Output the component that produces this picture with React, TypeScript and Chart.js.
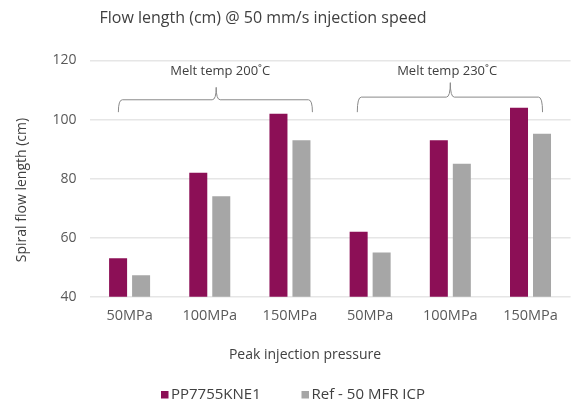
import React, { useEffect, useRef } from "react";
import { Chart, registerables } from "chart.js";

Chart.register(...registerables);

const categories = ["50MPa", "100MPa", "150MPa", "50MPa", "100MPa", "150MPa"];
const seriesNames = ["PP7755KNE1", "Ref - 50 MFR ICP"];
const ppValues = [53, 82, 102, 62, 93, 104];
const refValues = [47.3, 74, 93, 55, 85, 95.2];
const yTicks = [40, 60, 80, 100, 120];
const groupLabels = ["Melt temp 200˚C", "Melt temp 230˚C"];
// bracket spans in category-index units, heights in value units
const groupLeft = [-0.14, 2.84];
const groupRight = [2.28, 5.15];
const groupPeak = [1.08, 4.0];
const groupText = [1.13, 3.96];
const groupLineY = [106.7, 107.6];
const groupTopY = [110.9, 112.5];
const groupEndY = [102.5, 102.5];
const groupTextY = 116.2;

const titleText = "Flow length (cm) @ 50 mm/s injection speed";
const xTitle = "Peak injection pressure";
const yTitle = "Spiral flow length (cm)";

const MAGENTA = "#8C0F56";
const GREY = "#A6A6A6";
const FONT = "'Open Sans', 'Noto Sans', sans-serif";

const decorPlugin = {
  id: "decor",
  afterDraw(chart: any) {
    const ctx = chart.ctx as CanvasRenderingContext2D;
    const x = chart.scales.x;
    const y = chart.scales.y;
    const cw = x.getPixelForValue(1) - x.getPixelForValue(0);
    const px = (v: number) => x.getPixelForValue(0) + v * cw;
    ctx.save();
    // brackets
    ctx.strokeStyle = "#8a8a8a";
    ctx.lineWidth = 1;
    for (let i = 0; i < groupLabels.length; i++) {
      const L = px(groupLeft[i]);
      const R = px(groupRight[i]);
      const P = px(groupPeak[i]);
      const yl = y.getPixelForValue(groupLineY[i]);
      const yt = y.getPixelForValue(groupTopY[i]);
      const ye = y.getPixelForValue(groupEndY[i]);
      const r = 4;
      ctx.beginPath();
      ctx.moveTo(L, ye);
      ctx.quadraticCurveTo(L, yl, L + r, yl);
      ctx.lineTo(P - r, yl);
      ctx.quadraticCurveTo(P, yl, P, yt);
      ctx.quadraticCurveTo(P, yl, P + r, yl);
      ctx.lineTo(R - r, yl);
      ctx.quadraticCurveTo(R, yl, R, ye);
      ctx.stroke();
      ctx.fillStyle = "#404040";
      ctx.font = `13px ${FONT}`;
      ctx.textAlign = "center";
      ctx.textBaseline = "middle";
      ctx.fillText(groupLabels[i], px(groupText[i]), y.getPixelForValue(groupTextY));
    }
    // title
    ctx.fillStyle = "#404040";
    ctx.font = `16px ${FONT}`;
    ctx.textAlign = "center";
    ctx.textBaseline = "middle";
    ctx.fillText(titleText, 263, 18);
    // x title
    ctx.font = `14px ${FONT}`;
    ctx.fillText(xTitle, 305, 355);
    // y title
    ctx.save();
    ctx.translate(22, 190);
    ctx.rotate(-Math.PI / 2);
    ctx.fillText(yTitle, 0, 0);
    ctx.restore();
    // legend
    const colors = [MAGENTA, GREY];
    const sx = [161, 301.5];
    ctx.textAlign = "left";
    ctx.font = `15px ${FONT}`;
    for (let i = 0; i < seriesNames.length; i++) {
      ctx.fillStyle = colors[i];
      ctx.fillRect(sx[i], 391, 7.5, 7.5);
      ctx.fillStyle = "#404040";
      ctx.fillText(seriesNames[i], sx[i] + 10, 395);
    }
    ctx.restore();
  },
};

export default function App() {
  const ref = useRef<HTMLCanvasElement | null>(null);
  useEffect(() => {
    if (!ref.current) return;
    const chart = new Chart(ref.current, {
      type: "bar",
      data: {
        labels: categories,
        datasets: [
          { label: seriesNames[0], data: ppValues, backgroundColor: MAGENTA },
          { label: seriesNames[1], data: refValues, backgroundColor: GREY },
        ],
      },
      options: {
        responsive: false,
        devicePixelRatio: 1,
        animation: false,
        datasets: { bar: { categoryPercentage: 0.5736, barPercentage: 0.783 } },
        layout: { padding: { top: 60.5, right: 2.4, left: 0, bottom: 0 } },
        plugins: { legend: { display: false }, title: { display: false }, tooltip: { enabled: false } },
        scales: {
          x: {
            grid: { display: false, drawTicks: false },
            border: { display: false },
            ticks: { color: "#595959", font: { family: FONT, size: 14.5 }, padding: 10, maxRotation: 0 },
            afterFit: (s: any) => { s.height = 109.3; },
          },
          y: {
            min: 40,
            max: 120,
            afterBuildTicks: (s: any) => { s.ticks = yTicks.map((v) => ({ value: v })); },
            grid: { color: "#e6e6e6", lineWidth: 1.5, drawTicks: false },
            border: { display: false },
            ticks: { color: "#595959", font: { family: FONT, size: 14 }, padding: 13 },
            afterFit: (s: any) => { s.width = 89.5; },
          },
        },
      },
      plugins: [decorPlugin],
    });
    return () => chart.destroy();
  }, []);
  return (
    <div style={{ position: "absolute", left: 0, top: 0, width: 573, height: 406 }}>
      <canvas ref={ref} width={573} height={406} />
    </div>
  );
}
